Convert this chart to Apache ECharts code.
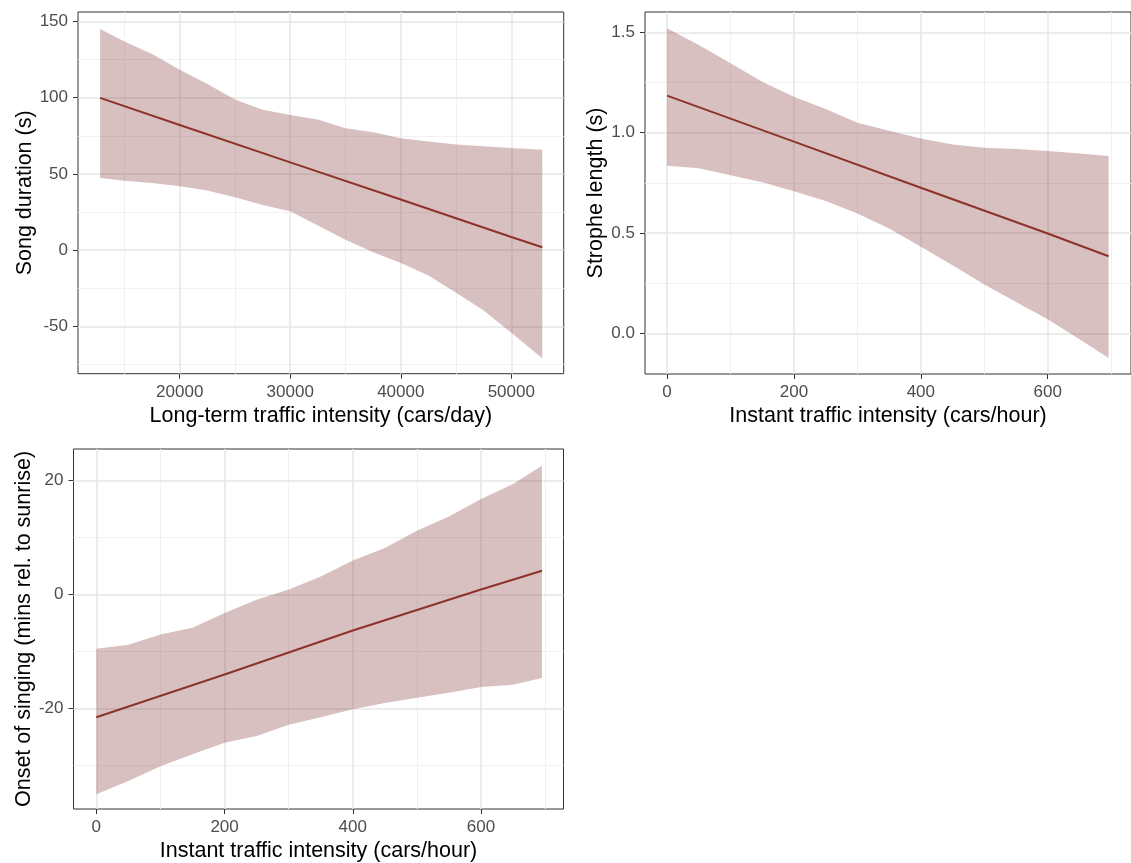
<!DOCTYPE html>
<html>
<head>
<meta charset="utf-8">
<title>Traffic intensity and song</title>
<script src="https://cdn.jsdelivr.net/npm/echarts@6/dist/echarts.min.js"></script>
<style>
  html, body { margin: 0; padding: 0; background: #ffffff; }
  #chart { width: 1131px; height: 863px; }
</style>
</head>
<body>
<div id="chart"></div>
<script>
// panel 1 - song duration vs long-term traffic
const songX = [12800, 15000, 17500, 20000, 22500, 25000, 27500, 30000, 32500, 35000, 37500, 40000, 42500, 45000, 47500, 50000, 52800];
const songUpper = [145.0, 136.7, 128.6, 118.3, 109.0, 98.7, 92.1, 88.6, 85.6, 79.9, 77.3, 73.4, 71.2, 69.2, 68.1, 67.0, 65.9];
const songLower = [47.4, 45.6, 44.1, 41.9, 39.1, 34.7, 29.7, 25.5, 16.2, 6.8, -1.3, -8.3, -16.6, -27.9, -39.5, -54.1, -70.7];
const songFitX = [12800, 20000, 30000, 40000, 50000, 52800];
const songFit = [99.8, 82.1, 57.6, 33.2, 8.7, 2.0];
const songXTicks = [20000, 30000, 40000, 50000];
const songXMinor = [15000, 25000, 35000, 45000];
const songYTicks = [-50, 0, 50, 100, 150];
const songYMinor = [-75, -25, 25, 75, 125];

// panel 2 - strophe length vs instant traffic
const stropheX = [0, 50, 100, 150, 200, 250, 300, 350, 400, 450, 500, 550, 600, 650, 696];
const stropheUpper = [1.520, 1.437, 1.345, 1.254, 1.179, 1.118, 1.049, 1.009, 0.971, 0.941, 0.925, 0.918, 0.908, 0.896, 0.883];
const stropheLower = [0.835, 0.822, 0.788, 0.752, 0.708, 0.659, 0.597, 0.522, 0.431, 0.339, 0.243, 0.156, 0.070, -0.030, -0.123];
const stropheFitX = [0, 200, 400, 600, 696];
const stropheFit = [1.184, 0.955, 0.725, 0.497, 0.384];
const stropheXTicks = [0, 200, 400, 600];
const stropheXMinor = [100, 300, 500, 700];
const stropheYTicks = [0.0, 0.5, 1.0, 1.5];
const stropheYMinor = [-0.25, 0.25, 0.75, 1.25];

// panel 3 - onset of singing vs instant traffic
const onsetX = [0, 50, 100, 150, 200, 250, 300, 350, 400, 450, 500, 550, 600, 650, 695];
const onsetUpper = [-9.5, -8.8, -7.0, -5.8, -3.2, -0.9, 0.9, 3.2, 6.0, 8.2, 11.2, 13.7, 16.8, 19.4, 22.6];
const onsetLower = [-35.0, -32.7, -30.1, -28.0, -26.0, -24.8, -22.8, -21.5, -20.1, -19.0, -18.1, -17.2, -16.2, -15.8, -14.6];
const onsetFitX = [0, 200, 400, 600, 695];
const onsetFit = [-21.5, -14.0, -6.3, 0.9, 4.2];
const onsetXTicks = [0, 200, 400, 600];
const onsetXMinor = [100, 300, 500, 700];
const onsetYTicks = [-20, 0, 20];
const onsetYMinor = [-30, -10, 10];

const FONT = "'Liberation Sans', Arial, sans-serif";
const LINE_COLOR = '#8b3328';
const RIBBON_COLOR = 'rgba(128, 48, 45, 0.30)';

const panels = [
    {
        box: { left: 78, top: 12, width: 485.7, height: 361.7 },
        xRange: [10800, 54740], yRange: [-80.9, 156.1],
        xName: 'Long-term traffic intensity (cars/day)', yName: 'Song duration (s)', yGap: 42,
        x: songX, upper: songUpper, lower: songLower, fitX: songFitX, fit: songFit,
        xTicks: songXTicks, xMinor: songXMinor, yTicks: songYTicks, yMinor: songYMinor,
        yFmt: v => String(v)
    },
    {
        box: { left: 645, top: 12, width: 491.8, height: 362 },
        xRange: [-34.8, 731.3], yRange: [-0.203, 1.601],
        xName: 'Instant traffic intensity (cars/hour)', yName: 'Strophe length (s)', yGap: 38,
        x: stropheX, upper: stropheUpper, lower: stropheLower, fitX: stropheFitX, fit: stropheFit,
        xTicks: stropheXTicks, xMinor: stropheXMinor, yTicks: stropheYTicks, yMinor: stropheYMinor,
        yFmt: v => Number(v).toFixed(1)
    },
    {
        box: { left: 73.5, top: 449, width: 490, height: 360.7 },
        xRange: [-35.6, 728.6], yRange: [-37.6, 25.55],
        xName: 'Instant traffic intensity (cars/hour)', yName: 'Onset of singing (mins rel. to sunrise)', yGap: 38,
        x: onsetX, upper: onsetUpper, lower: onsetLower, fitX: onsetFitX, fit: onsetFit,
        xTicks: onsetXTicks, xMinor: onsetXMinor, yTicks: onsetYTicks, yMinor: onsetYMinor,
        yFmt: v => String(v)
    }
];

function createGridLines(p) {
    const major = { color: '#e6e6e6', width: 1.5, type: 'solid' };
    const minor = { color: '#f1f1f1', width: 1, type: 'solid' };
    return [].concat(
        p.xMinor.map(v => ({ xAxis: v, lineStyle: minor })),
        p.yMinor.map(v => ({ yAxis: v, lineStyle: minor })),
        p.xTicks.map(v => ({ xAxis: v, lineStyle: major })),
        p.yTicks.map(v => ({ yAxis: v, lineStyle: major }))
    );
}

function createAxis(range, ticks, name, gap, fmt, rotate) {
    return {
        type: 'value',
        min: range[0],
        max: range[1],
        name: name,
        nameLocation: 'middle',
        nameGap: gap,
        nameRotate: rotate,
        nameTextStyle: { color: '#000000', fontSize: 21.5, fontFamily: FONT },
        axisLine: { show: false, onZero: false },
        splitLine: { show: false },
        axisTick: {
            show: true, inside: false, length: 5, customValues: ticks,
            lineStyle: { color: '#333333', width: 1 }
        },
        axisLabel: {
            customValues: ticks, margin: 10, color: '#4d4d4d',
            fontSize: 17, fontFamily: FONT, formatter: fmt
        }
    };
}

// ribbon outline: upper edge left to right, lower edge back
function ribbonPolygon(p) {
    const top = p.x.map((x, k) => [x, p.upper[k]]);
    const bottom = p.x.map((x, k) => [x, p.lower[k]]).reverse();
    return top.concat(bottom);
}

const option = {
    backgroundColor: '#ffffff',
    animation: false,
    grid: [],
    xAxis: [],
    yAxis: [],
    series: []
};

panels.forEach((p, i) => {
    option.grid.push(Object.assign({
        show: true, borderColor: '#333333', borderWidth: 1,
        backgroundColor: 'transparent', containLabel: false
    }, p.box));
    option.xAxis.push(Object.assign(
        createAxis(p.xRange, p.xTicks, p.xName, 31, v => String(v), 0), { gridIndex: i }));
    option.yAxis.push(Object.assign(
        createAxis(p.yRange, p.yTicks, p.yName, p.yGap, p.yFmt, 90), { gridIndex: i }));

    const poly = ribbonPolygon(p);
    option.series.push({
        type: 'custom', xAxisIndex: i, yAxisIndex: i,
        data: poly,
        encode: { x: 0, y: 1 },
        z: 3,
        renderItem: function (params, api) {
            if (params.dataIndex !== 0) return null;
            return {
                type: 'polygon',
                shape: { points: poly.map(pt => api.coord(pt)) },
                style: { fill: RIBBON_COLOR, stroke: null }
            };
        },
        markLine: {
            silent: true, symbol: 'none', z: 1, animation: false,
            label: { show: false },
            data: createGridLines(p)
        }
    });
    option.series.push({
        type: 'line', xAxisIndex: i, yAxisIndex: i,
        data: p.fitX.map((x, k) => [x, p.fit[k]]),
        showSymbol: false, symbol: 'none',
        lineStyle: { color: LINE_COLOR, width: 2 },
        z: 4
    });
});

const chart = echarts.init(document.getElementById('chart'), null, { renderer: 'canvas' });
chart.setOption(option);
</script>
</body>
</html>
